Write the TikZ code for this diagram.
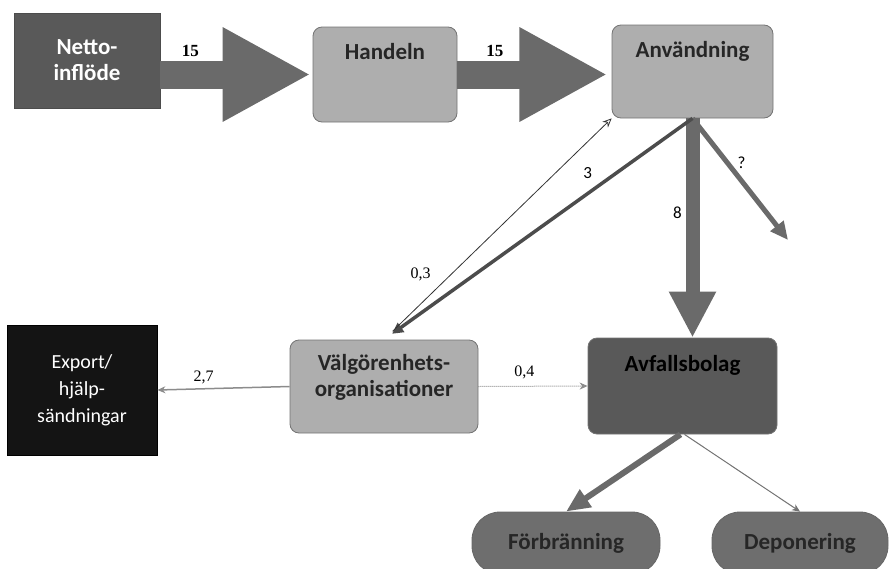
\documentclass[tikz,border=0pt]{standalone}
\usepackage{fontspec}
\setmainfont{Carlito}
\newfontfamily\numfont{Liberation Serif}
\usetikzlibrary{arrows.meta,calc}
\definecolor{darkbox}{HTML}{595959}
\definecolor{lightbox}{HTML}{AEAEAE}
\definecolor{arrowgray}{HTML}{6A6A6A}
\definecolor{blackbox}{HTML}{141414}
\definecolor{pillgray}{HTML}{6E6E6E}
\tikzset{
  boxtext/.style={font=\fontsize{23}{26}\selectfont\bfseries},
  sqbox/.style={draw=black!70, line width=0.8pt, inner sep=0pt},
  rbox/.style={draw=black!55, line width=0.8pt, rounded corners=9pt, inner sep=0pt},
  pill/.style={draw=black!60, line width=0.8pt, rounded corners=28pt, inner sep=0pt, fill=pillgray},
  fatarrow/.style={draw=arrowgray, line width=28pt, -{Triangle[width=88pt,length=88pt]}},
  numlab/.style={font=\numfont\fontsize{17}{17}\selectfont\bfseries},
  smallnum/.style={font=\numfont\fontsize{16}{16}\selectfont},
  sanslab/.style={font=\fontsize{17}{17}\selectfont},
}
\begin{document}
\begin{tikzpicture}[x=1pt,y=-1pt]
\useasboundingbox (0,0) rectangle (889,568);
% nodes
\node[sqbox, fill=darkbox, minimum width=146pt, minimum height=95pt, text=white, boxtext, align=center] (netto) at (87,60.5) {Netto-\\inflöde};
\node[rbox, fill=lightbox, minimum width=144pt, minimum height=95pt,
  label={[anchor=center,yshift=-25pt,boxtext,text=black!85]north:Handeln}] (handeln) at (385,74.5) {};
\node[rbox, fill=lightbox, minimum width=161pt, minimum height=93pt,
  label={[anchor=center,yshift=-27pt,boxtext,text=black!85]north:Användning}] (anv) at (692.5,71.5) {};
\node[rbox, fill=darkbox, minimum width=189pt, minimum height=96pt,
  label={[anchor=center,yshift=-28pt,boxtext,text=black]north:Avfallsbolag}] (avf) at (682.5,386) {};
\node[rbox, fill=lightbox, minimum width=188pt, minimum height=93pt,
  label={[anchor=center,yshift=-38pt,boxtext,text=black!85,align=center]north:Välgörenhets-\\organisationer}] (valg) at (384,386.5) {};
\node[sqbox, draw=black, fill=blackbox, minimum width=150pt, minimum height=130pt, text=white, align=center,
  font=\fontsize{20}{27}\selectfont] (export) at (82,390) {Export/\\hjälp-\\sändningar};
\node[pill, minimum width=188pt, minimum height=62pt, boxtext, text=black!85] (forb) at (566,543) {Förbränning};
\node[pill, minimum width=176pt, minimum height=62pt, boxtext, text=black!85] (depo) at (800,543) {Deponering};
\coordinate (q) at (788,240);
% block arrows
\draw[fatarrow] (netto.east |- handeln.west) -- node[numlab, black, pos=0.2, yshift=24pt] {15} ($(handeln.west)+(-2,0)$);
\draw[fatarrow] (handeln.east) -- node[numlab, black, pos=0.25, yshift=24pt] {15} ($(handeln.east |- handeln.west)+(150,0)$);
% Användning outflows
\draw[draw=arrowgray, line width=14pt, -{Triangle[width=44pt,length=46pt]}] (anv.south) -- node[sanslab, pos=0.43, xshift=-15pt] {8} (anv.south |- avf.north);
\draw[draw=arrowgray, line width=5pt, -{Triangle[width=16pt,length=18pt]}] (anv.south) -- node[sanslab, pos=0.45, xshift=6pt, yshift=10pt] {?} (q);
\draw[draw=black!70, line width=3.5pt, -{Triangle[width=11pt,length=11pt]}, shorten >=10pt] (anv.south) -- node[sanslab, pos=0.34, yshift=21pt] {3} (valg.north);
\draw[draw=black!80, line width=0.8pt, -{Stealth[width=8pt,length=9pt,open]}, shorten <=12pt] (valg.north) -- node[smallnum, pos=0.17, xshift=-2pt, yshift=28pt] {0,3} (anv.south west);
% Välgörenhet outflows
\draw[draw=black!45, line width=1.5pt, -{Stealth[width=7pt,length=8pt]}] (valg.west) -- node[smallnum, pos=0.65, yshift=11pt] {2,7} (export.east);
\draw[draw=black!45, line width=1pt, densely dotted, -{Stealth[width=7pt,length=8pt]}] (valg.east) -- node[smallnum, pos=0.42, yshift=14pt] {0,4} (avf.west);
% Avfallsbolag outflows
\draw[draw=arrowgray, line width=6pt, -{Triangle[width=20pt,length=24pt]}] ($(avf.south)+(-2,0)$) -- (forb.north);
\draw[draw=black!55, line width=1pt, -{Stealth[width=7pt,length=8pt]}] ($(avf.south)+(2,0)$) -- (depo.north);
\end{tikzpicture}
\end{document}
